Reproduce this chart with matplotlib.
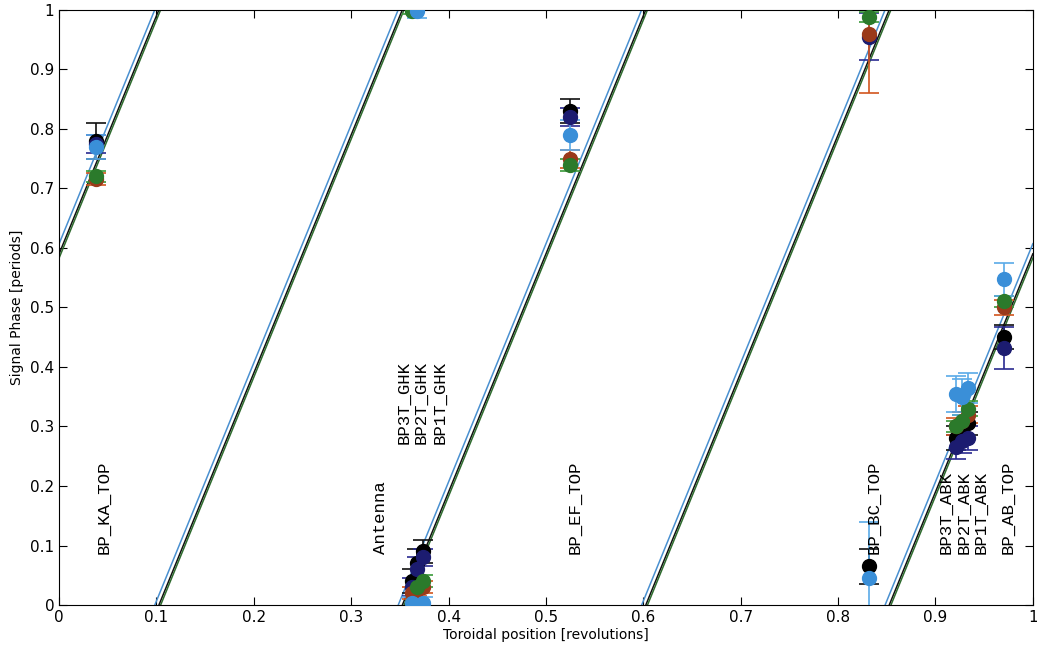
import numpy as np
import matplotlib.pyplot as plt

# probe toroidal positions [revolutions]
probes = ['BP_KA_TOP', 'BP3T_GHK', 'BP2T_GHK', 'BP1T_GHK', 'BP_EF_TOP',
          'BP_BC_TOP', 'BP3T_ABK', 'BP2T_ABK', 'BP1T_ABK', 'BP_AB_TOP']
probePos = [0.038, 0.362, 0.368, 0.374, 0.525, 0.832, 0.921, 0.927, 0.933, 0.970]

# measured phase [periods] per analysis, with errors
phaseBlack = [0.780, 0.040, 0.070, 0.090, 0.830, 0.065, 0.280, 0.290, 0.305, 0.450]
errBlack = [0.030, 0.020, 0.025, 0.020, 0.020, 0.030, 0.020, 0.020, 0.020, 0.020]
phaseNavy = [0.775, 0.030, 0.060, 0.080, 0.820, 0.955, 0.265, 0.275, 0.280, 0.432]
errNavy = [0.015, 0.015, 0.020, 0.015, 0.015, 0.040, 0.020, 0.020, 0.020, 0.035]
phaseRed = [0.715, 0.020, 0.025, 0.030, 0.750, 0.960, 0.300, 0.310, 0.320, 0.500]
errRed = [0.010, 0.010, 0.010, 0.010, 0.015, 0.100, 0.015, 0.015, 0.015, 0.012]
phaseGreen = [0.720, 0.998, 0.030, 0.040, 0.740, 0.988, 0.300, 0.310, 0.330, 0.510]
errGreen = [0.010, 0.005, 0.010, 0.010, 0.010, 0.008, 0.010, 0.010, 0.012, 0.010]
phaseBlue = [0.770, 0.003, 0.998, 0.003, 0.790, 0.045, 0.355, 0.350, 0.365, 0.547]
errBlue = [0.020, 0.010, 0.012, 0.010, 0.025, 0.095, 0.030, 0.030, 0.025, 0.027]

# fitted n=4 mode lines: phase = n*phi + offset
nMode = 4
fitOffsets = [0.607, 0.590, 0.583]
fitColors = ['#4a90d0', '#111111', '#2e6b2e']

# probe labels (x, y of bottom of text)
labelText = ['BP_KA_TOP', 'Antenna', 'BP3T_GHK', 'BP2T_GHK', 'BP1T_GHK', 'BP_EF_TOP',
             'BP_BC_TOP', 'BP3T_ABK', 'BP2T_ABK', 'BP1T_ABK', 'BP_AB_TOP']
labelX = [0.046, 0.330, 0.354, 0.372, 0.391, 0.530, 0.837, 0.911, 0.929, 0.947, 0.974]
labelY = [0.085, 0.085, 0.270, 0.270, 0.270, 0.085, 0.085, 0.085, 0.085, 0.085, 0.085]

fig = plt.figure(figsize=(10.37, 6.52), dpi=100)
ax = fig.add_axes([0.057, 0.072, 0.939, 0.913])

phi = np.linspace(0, 1, 4001)
for off, col in zip(fitOffsets, fitColors):
    ph = (nMode * phi + off) % 1.0
    ph[1:][np.diff(ph) < 0] = np.nan
    ax.plot(phi, ph, color=col, lw=1.1, zorder=2)

series = [
    (phaseBlack, errBlack, '#000000', '#111111'),
    (phaseNavy, errNavy, '#1c1c70', '#2a2a90'),
    (phaseRed, errRed, '#9a3a1a', '#d2551e'),
    (phaseGreen, errGreen, '#2b7a2b', '#3a9a3a'),
    (phaseBlue, errBlue, '#3a8fd8', '#5aaae8'),
]
for ph, er, col, ecol in series:
    ax.errorbar(probePos, ph, yerr=er, fmt='o', color=col, ecolor=ecol,
                ms=10, capsize=7, elinewidth=1.2, capthick=1.2, zorder=3)

for t, x, y in zip(labelText, labelX, labelY):
    ax.text(x, y, t, rotation=90, ha='center', va='bottom',
            family='Liberation Mono', fontsize=12.5)

ax.set_xlim(0, 1)
ax.set_ylim(0, 1)
ticks = np.arange(0, 1.01, 0.1)
ax.set_xticks(ticks)
ax.set_yticks(ticks)
ax.set_xticklabels(['0'] + ['%.1f' % t for t in ticks[1:-1]] + ['1'])
ax.set_yticklabels(['0'] + ['%.1f' % t for t in ticks[1:-1]] + ['1'])
ax.tick_params(direction='in', top=True, right=True, length=6, labelsize=11)
ax.set_xlabel('Toroidal position [revolutions]', fontsize=10, labelpad=2)
ax.set_ylabel('Signal Phase [periods]', fontsize=10, labelpad=4)

fig.savefig('out.png', dpi=100)
